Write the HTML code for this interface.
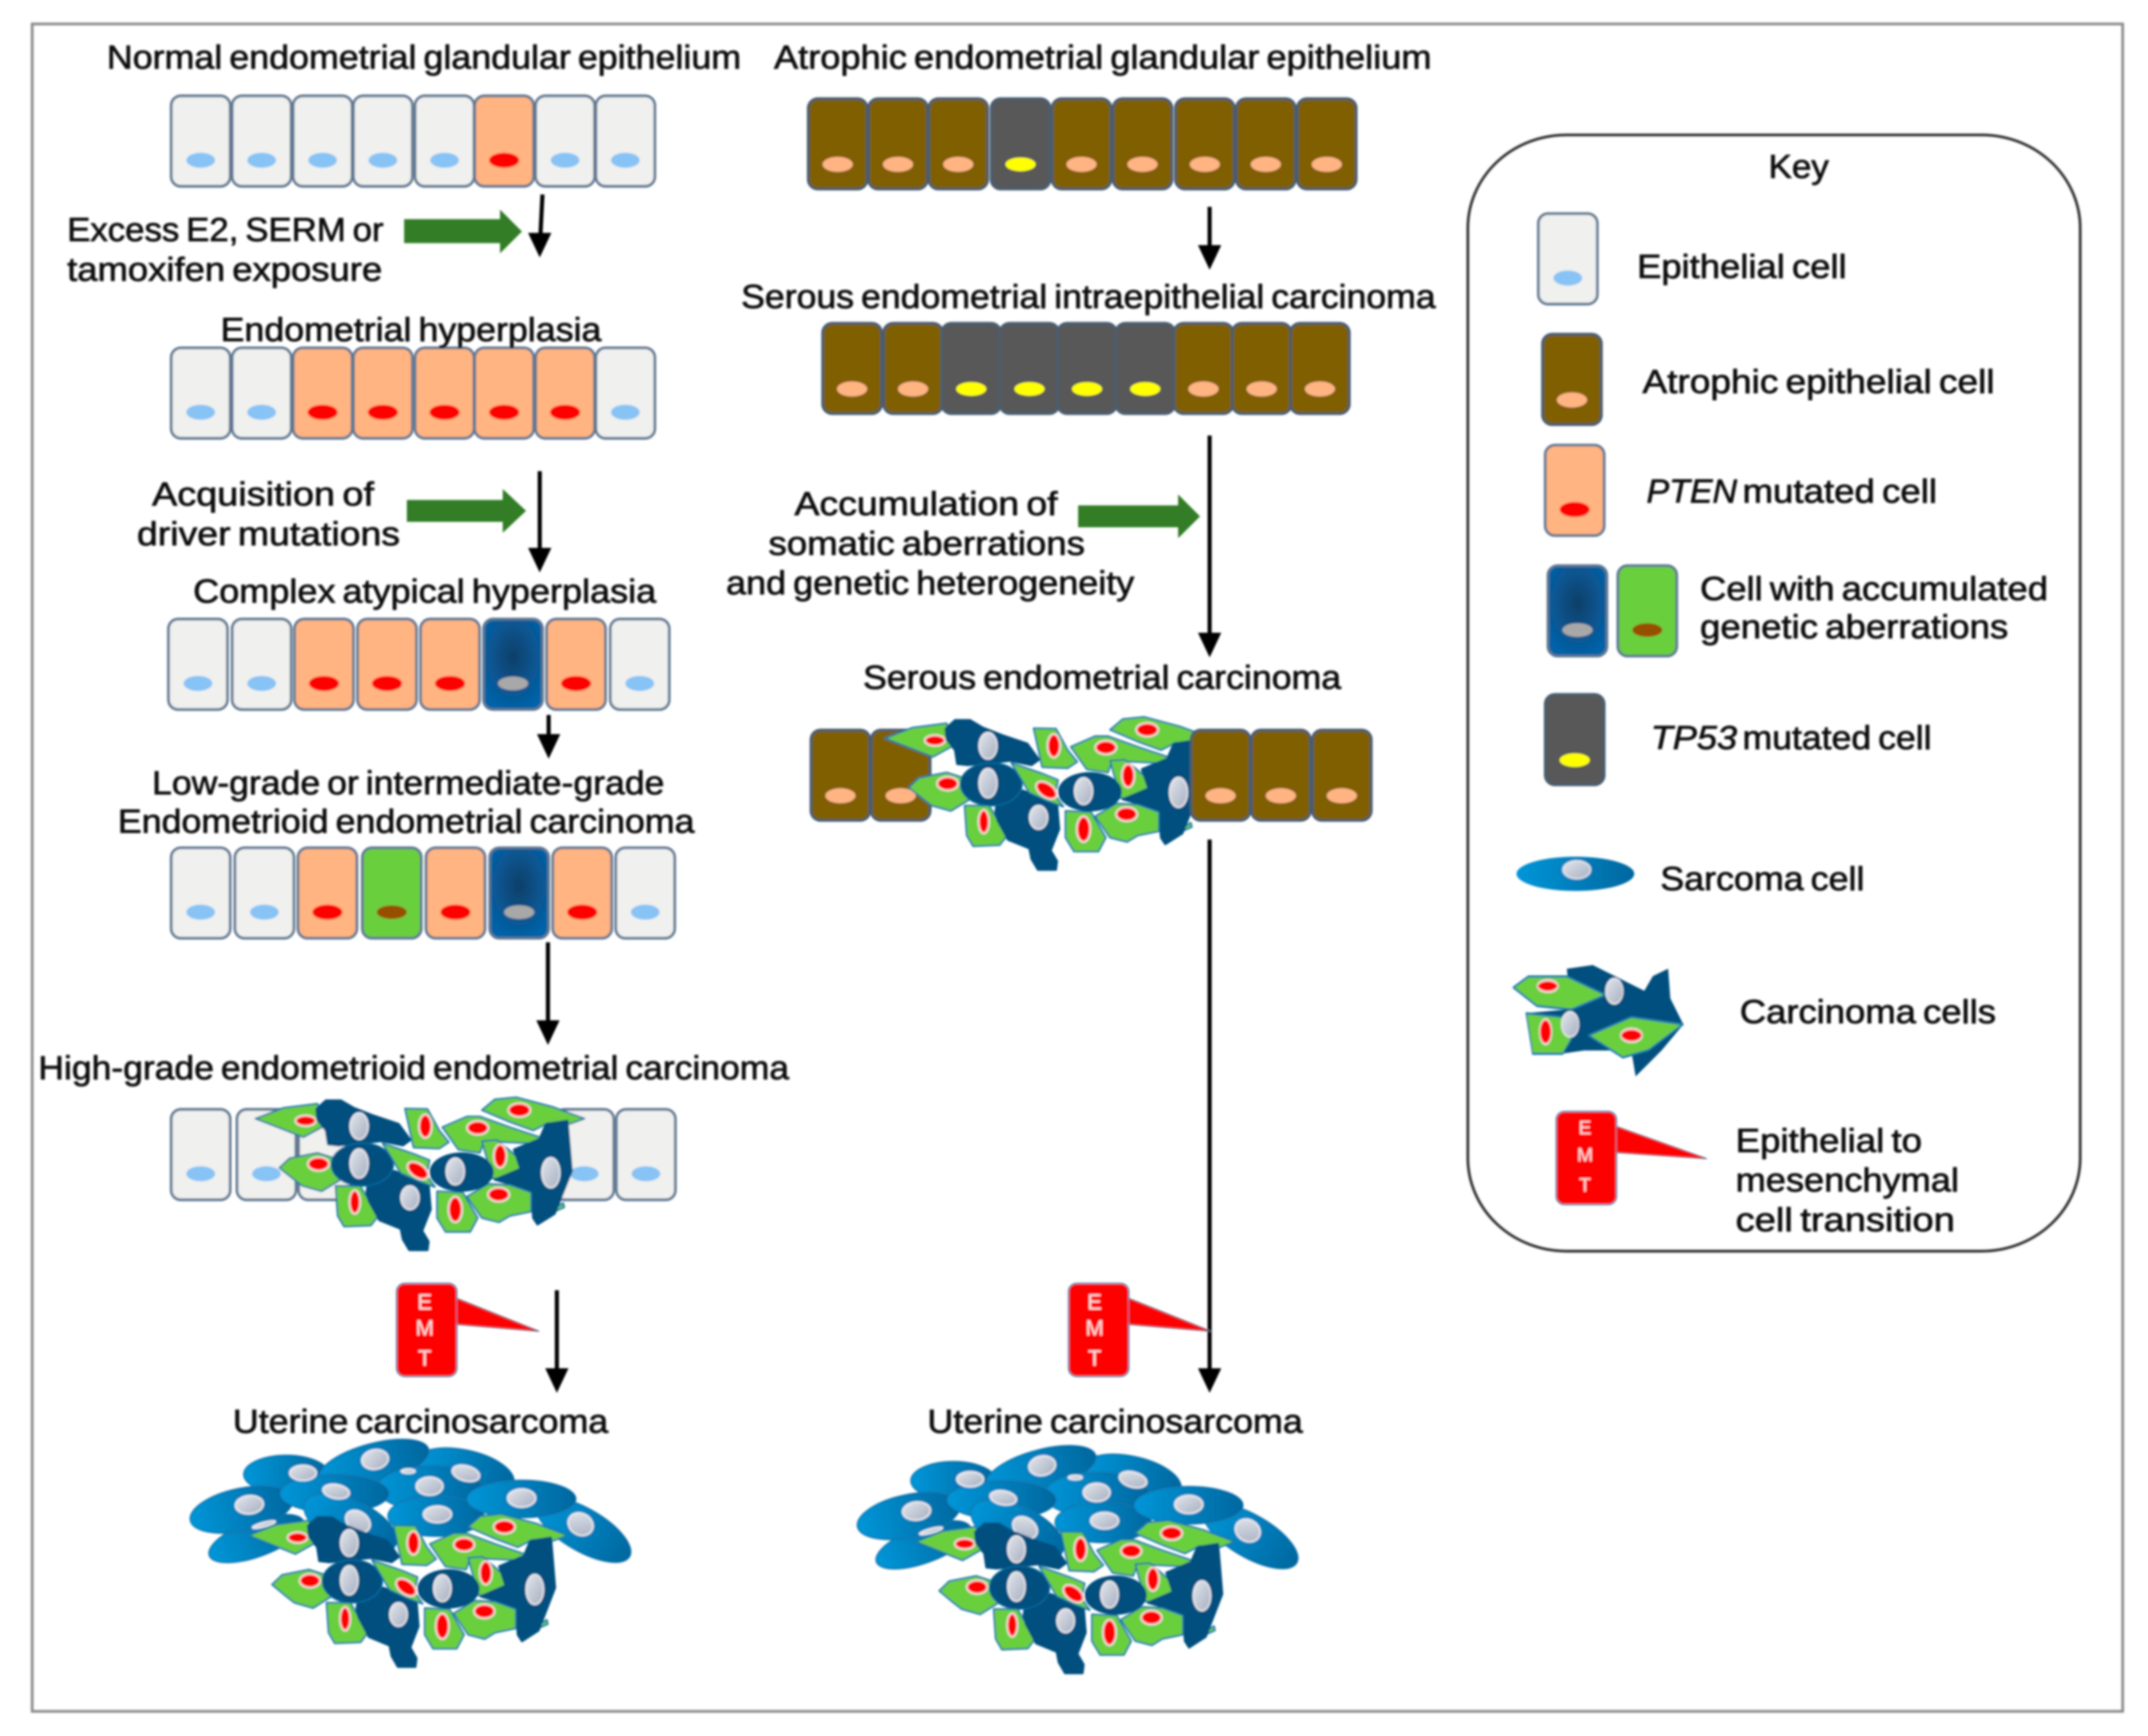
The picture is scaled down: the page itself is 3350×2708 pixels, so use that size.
<!DOCTYPE html>
<html><head><meta charset="utf-8"><style>
html,body{margin:0;padding:0;background:#fff}
svg{display:block}
text{font-family:"Liberation Sans",Arial,sans-serif;font-size:24.5px;fill:#111;stroke:#111;stroke-width:.5px;word-spacing:-2px}
.e{fill:#ffe4e4;stroke:none;font-size:16px;text-anchor:middle}
.k{font-size:14px}
</style></head><body>
<svg xmlns="http://www.w3.org/2000/svg" width="3350" height="2708" viewBox="0 0 1568 1267.5">
<defs>
<filter id="b" filterUnits="userSpaceOnUse" x="0" y="0" width="1568" height="1268"><feGaussianBlur stdDeviation="0.7"/></filter>
<radialGradient id="bg" cx=".5" cy=".42" r=".6"><stop offset="0" stop-color="#0d3f68"/><stop offset=".6" stop-color="#0a5590"/><stop offset="1" stop-color="#0062a8"/></radialGradient>
<linearGradient id="sg" x1="0" x2="1"><stop offset="0" stop-color="#0096d8"/><stop offset="1" stop-color="#00679f"/></linearGradient>
<linearGradient id="ng" x1="0" x2="1" y1="0" y2="1"><stop offset="0" stop-color="#e2e6ec"/><stop offset="1" stop-color="#a6aec0"/></linearGradient>
<g id="cl"><rect x="0" y="0" width="43" height="66" rx="7" fill="#f0f0ee" stroke="#5f7892" stroke-width="2"/><ellipse cx="21.500" cy="47" rx="10.500" ry="5.500" fill="#87c3f5"/></g>
<g id="co"><rect x="0" y="0" width="43" height="66" rx="7" fill="#ffb482" stroke="#5f7892" stroke-width="2"/><ellipse cx="21.500" cy="47" rx="11" ry="5.500" fill="#f00"/></g>
<g id="cb"><rect x="0" y="0" width="43" height="66" rx="7" fill="url(#bg)" stroke="#5f7892" stroke-width="2"/><ellipse cx="21.500" cy="47" rx="11" ry="5" fill="#a8a8a8"/></g>
<g id="cg"><rect x="0" y="0" width="43" height="66" rx="7" fill="#6bcf3c" stroke="#5f7892" stroke-width="2"/><ellipse cx="21.500" cy="47" rx="11" ry="5" fill="#964f00"/></g>
<g id="cw"><rect x="0" y="0" width="43" height="66" rx="7" fill="#7f5f00" stroke="#4a5d70" stroke-width="2"/><ellipse cx="21.500" cy="48" rx="11" ry="5.500" fill="#ffb482"/></g>
<g id="cy"><rect x="0" y="0" width="43" height="66" rx="7" fill="#595959" stroke="#4a5d70" stroke-width="2"/><ellipse cx="21.500" cy="48" rx="11" ry="5" fill="#ff0"/></g>
<g id="ar"><path d="M-8.500 -18 L0 0 L8.500 -18 Z" fill="#000"/></g>
<g id="carc" stroke-linejoin="round">
<g fill="#6bcf3c" stroke="#1c78a8" stroke-width="8">
<polygon points="10,135 140,85 300,65 330,170 235,222"/>
<polygon points="122,365 170,320 300,295 380,320 410,420 320,475 230,450 190,420"/>
<polygon points="385,450 500,450 585,590 550,635 425,640 395,590"/>
</g>
<g fill="#f00" stroke="#f6dcd8" stroke-width="9">
<ellipse cx="245" cy="145" rx="48" ry="25"/><ellipse cx="305" cy="347" rx="50" ry="32"/><ellipse cx="475" cy="525" rx="25" ry="55"/>
</g>
<g fill="#00507f" stroke="#00507f" stroke-width="10">
<polygon points="295,90 340,50 410,50 470,85 560,120 680,160 735,235 700,260 600,240 400,260 350,255 340,190 300,140"/>
<polygon points="530,480 540,420 660,380 820,440 830,560 790,660 820,710 815,750 730,750 700,700 690,650 590,610 540,520"/>
</g>
<ellipse cx="510" cy="350" rx="145" ry="100" fill="#00507f" stroke="#0a689a" stroke-width="7"/>
<g fill="#6bcf3c" stroke="#1c78a8" stroke-width="8">
<polygon points="710,88 815,90 870,190 915,245 870,275 750,270"/>
<polygon points="605,250 750,300 825,330 810,400 850,455 780,430 690,390"/>
<polygon points="885,175 1000,125 1060,125 1200,175 1350,225 1290,250 1080,240 1060,295 960,280"/>
<polygon points="1070,95 1130,45 1230,35 1400,80 1550,135 1480,160 1380,155 1310,190 1200,150"/>
<polygon points="1070,240 1140,235 1230,310 1255,370 1220,415 1120,415"/>
<polygon points="1410,555 1450,530 1455,550 1420,565"/>
</g>
<g fill="#00507f" stroke="#00507f" stroke-width="10">
<polygon points="1220,280 1340,230 1370,160 1470,145 1480,260 1490,380 1450,480 1410,580 1330,630 1310,600 1300,480 1200,440 1130,420 1250,370"/>
</g>
<g fill="#6bcf3c" stroke="#1c78a8" stroke-width="8">
<polygon points="1000,500 1100,440 1200,445 1300,480 1300,570 1200,590 1150,620 1070,600"/>
<polygon points="860,475 980,480 1050,600 1015,665 900,665 860,600"/>
</g>
<ellipse cx="975" cy="385" rx="150" ry="92" fill="#00507f"/>
<g fill="url(#ng)" stroke="#f2f4f6" stroke-width="6">
<ellipse cx="495" cy="170" rx="42" ry="62"/><ellipse cx="495" cy="345" rx="42" ry="68"/><ellipse cx="733" cy="505" rx="42" ry="55"/><ellipse cx="945" cy="382" rx="42" ry="62"/><ellipse cx="1392" cy="388" rx="42" ry="70"/>
</g>
<g fill="#f00" stroke="#f6dcd8" stroke-width="9">
<ellipse cx="770" cy="378" rx="55" ry="32" transform="rotate(35 770 378)"/><ellipse cx="805" cy="170" rx="30" ry="55"/><ellipse cx="1050" cy="178" rx="50" ry="32"/>
<ellipse cx="1245" cy="95" rx="52" ry="32"/><ellipse cx="1155" cy="310" rx="30" ry="55"/><ellipse cx="1148" cy="490" rx="50" ry="33"/><ellipse cx="945" cy="560" rx="32" ry="60"/>
</g>
</g>
<g id="sarc">
<g fill="url(#sg)" stroke="#1470a8" stroke-width="5">
<ellipse cx="1300" cy="140" rx="240" ry="105" transform="rotate(12 1300 140)"/>
<ellipse cx="470" cy="150" rx="200" ry="90"/>
<ellipse cx="880" cy="100" rx="265" ry="95" transform="rotate(-15 880 100)"/>
<ellipse cx="330" cy="450" rx="235" ry="85" transform="rotate(-20 330 450)"/>
<ellipse cx="260" cy="315" rx="245" ry="100" transform="rotate(-12 260 315)"/>
<ellipse cx="1140" cy="215" rx="245" ry="105"/>
<ellipse cx="695" cy="240" rx="255" ry="90"/>
<ellipse cx="1860" cy="410" rx="250" ry="100" transform="rotate(30 1860 410)"/>
<ellipse cx="1170" cy="345" rx="225" ry="95"/>
<ellipse cx="770" cy="380" rx="235" ry="110" transform="rotate(25 770 380)"/>
<ellipse cx="1570" cy="265" rx="255" ry="88"/>
</g>
<g fill="url(#ng)" stroke="#f0f2f4" stroke-width="7">
<ellipse cx="885" cy="80" rx="62" ry="45" transform="rotate(-10 885 80)"/><ellipse cx="548" cy="143" rx="62" ry="35"/><ellipse cx="297" cy="292" rx="65" ry="42" transform="rotate(-5 297 292)"/>
<ellipse cx="703" cy="230" rx="62" ry="32" transform="rotate(10 703 230)"/><ellipse cx="1140" cy="205" rx="62" ry="42"/><ellipse cx="805" cy="370" rx="62" ry="45" transform="rotate(35 805 370)"/>
<ellipse cx="1177" cy="337" rx="65" ry="38"/><ellipse cx="1310" cy="145" rx="65" ry="35" transform="rotate(15 1310 145)"/><ellipse cx="1571" cy="261" rx="65" ry="42"/>
<ellipse cx="1847" cy="383" rx="60" ry="50" transform="rotate(30 1847 383)"/><ellipse cx="365" cy="385" rx="55" ry="10" transform="rotate(-15 365 385)"/><ellipse cx="1040" cy="135" rx="32" ry="10"/>
</g>
</g>
<g id="emt">
<path d="M44 11 L104 35 L44 30 Z" fill="#f00" stroke="#4a5d70" stroke-width=".7"/>
<rect x="0" y="0" width="44" height="68" rx="6" fill="#f00" stroke="#4a8ab0" stroke-width="1"/>
<path d="M44 12 L102 34.500 L44 29 Z" fill="#f00"/>
</g>
</defs>
<rect width="1568" height="1268" fill="#fff"/>
<g filter="url(#b)">
<rect x="23.500" y="17.500" width="1526" height="1232" fill="none" stroke="#8c8c8c" stroke-width="2"/>

<!-- row 1 -->
<use href="#cl" x="125" y="70"/><use href="#cl" x="169.500" y="70"/><use href="#cl" x="214" y="70"/><use href="#cl" x="258" y="70"/><use href="#cl" x="303" y="70"/><use href="#co" x="346.500" y="70"/><use href="#cl" x="391" y="70"/><use href="#cl" x="435" y="70"/>
<!-- row 2 -->
<use href="#cl" x="125" y="254"/><use href="#cl" x="169.500" y="254"/><use href="#co" x="214" y="254"/><use href="#co" x="258" y="254"/><use href="#co" x="303" y="254"/><use href="#co" x="346.500" y="254"/><use href="#co" x="391" y="254"/><use href="#cl" x="435" y="254"/>
<!-- row 3 -->
<use href="#cl" x="123" y="452"/><use href="#cl" x="169.500" y="452"/><use href="#co" x="215" y="452"/><use href="#co" x="261" y="452"/><use href="#co" x="307" y="452"/><use href="#cb" x="353" y="452"/><use href="#co" x="399" y="452"/><use href="#cl" x="445.500" y="452"/>
<!-- row 4 -->
<use href="#cl" x="125" y="619"/><use href="#cl" x="171.500" y="619"/><use href="#co" x="217.500" y="619"/><use href="#cg" x="264.500" y="619"/><use href="#co" x="311" y="619"/><use href="#cb" x="357.500" y="619"/><use href="#co" x="403.500" y="619"/><use href="#cl" x="449.500" y="619"/>
<!-- row 5 -->
<use href="#cl" x="125" y="810"/><use href="#cl" x="173" y="810"/><use href="#cl" x="218" y="810"/><use href="#cl" x="405" y="810"/><use href="#cl" x="450" y="810"/>
<use href="#carc" transform="matrix(.156 0 0 .156 184.900 795.700)"/>

<!-- atrophic rows -->
<use href="#cw" x="590" y="72"/><use href="#cw" x="634" y="72"/><use href="#cw" x="678" y="72"/><use href="#cy" x="723.500" y="72"/><use href="#cw" x="768" y="72"/><use href="#cw" x="812.500" y="72"/><use href="#cw" x="858" y="72"/><use href="#cw" x="902.500" y="72"/><use href="#cw" x="947" y="72"/>
<use href="#cw" x="600.500" y="236"/><use href="#cw" x="645" y="236"/><use href="#cy" x="687.500" y="236"/><use href="#cy" x="730" y="236"/><use href="#cy" x="772" y="236"/><use href="#cy" x="814.500" y="236"/><use href="#cw" x="857" y="236"/><use href="#cw" x="899.500" y="236"/><use href="#cw" x="942" y="236"/>
<use href="#cw" x="592" y="533"/><use href="#cw" x="636" y="533"/>
<use href="#carc" transform="matrix(.155 0 0 .156 644.500 518)"/>
<use href="#cw" x="869.500" y="533"/><use href="#cw" x="913.500" y="533"/><use href="#cw" x="958" y="533"/>

<!-- carcinosarcomas -->
<use href="#sarc" transform="matrix(.156 0 0 .156 135.700 1053.100)"/>
<use href="#carc" transform="matrix(.151 0 0 .156 180.200 1100)"/>
<use href="#sarc" transform="matrix(.156 0 0 .156 622.700 1057.700)"/>
<use href="#carc" transform="matrix(.151 0 0 .156 667.200 1104.600)"/>

<!-- black arrows -->
<g stroke="#000" stroke-width="3" fill="none">
<path d="M396 142 L394.500 172"/><path d="M394 344V402"/><path d="M400.500 522V539"/><path d="M400 688V748"/><path d="M406.500 942V1002"/><path d="M883 151V182"/><path d="M883 318V465"/><path d="M883 613V1002"/>
</g>
<use href="#ar" x="394" y="188"/><use href="#ar" x="394" y="418"/><use href="#ar" x="400.500" y="554"/><use href="#ar" x="400" y="763"/><use href="#ar" x="406.500" y="1017"/><use href="#ar" x="883" y="197"/><use href="#ar" x="883" y="480"/><use href="#ar" x="883" y="1017"/>

<!-- green arrows -->
<g fill="#317d28">
<polygon points="295,160 365,160 365,153 381,169 365,185 365,177.500 295,177.500"/>
<polygon points="297,365 367,365 367,357 384,373 367,389 367,381 297,381"/>
<polygon points="787,369 860,369 860,361 876,377 860,393 860,385 787,385"/>
</g>

<!-- EMT -->
<use href="#emt" x="289.500" y="937"/><use href="#emt" x="780" y="937"/>
<text class="e" x="310" y="956">E</text><text class="e" x="310" y="975">M</text><text class="e" x="310" y="997">T</text>
<text class="e" x="799" y="956">E</text><text class="e" x="799" y="975">M</text><text class="e" x="799" y="997">T</text>

<!-- key -->
<rect x="1071.500" y="98.500" width="447" height="815" rx="72" ry="68" fill="none" stroke="#333" stroke-width="2"/>
<use href="#cl" transform="translate(1123 156)"/>
<use href="#cw" transform="translate(1126 244)"/>
<use href="#co" transform="translate(1128 325)"/>
<use href="#cb" transform="translate(1130 413)"/>
<use href="#cg" transform="translate(1181 413)"/>
<use href="#cy" transform="translate(1128 507)"/>
<ellipse cx="1150" cy="638" rx="43" ry="12.500" fill="url(#sg)"/>
<ellipse cx="1151" cy="635" rx="10" ry="6.500" fill="url(#ng)" stroke="#e8ecf0"/>
<g transform="matrix(.3135 0 0 .5374 1053 84.200)" stroke-linejoin="round">
<polygon points="290,1160 350,1155 470,1190 490,1170 525,1160 530,1200 560,1235 510,1270 450,1305 440,1270 330,1270 270,1275 220,1270 200,1220 300,1215" fill="#00507f" stroke="#00507f"/>
<g fill="#6bcf3c" stroke="#1c78a8" stroke-width="3">
<polygon points="165,1185 200,1170 290,1170 380,1195 300,1215 220,1210"/>
<polygon points="195,1220 280,1225 300,1255 280,1275 210,1275"/>
<polygon points="340,1250 440,1225 560,1235 480,1270 420,1280"/>
</g>
<g fill="#f00" stroke="#f6d8d4" stroke-width="3"><ellipse cx="245" cy="1183" rx="24" ry="8"/><ellipse cx="240" cy="1245" rx="14" ry="17"/><ellipse cx="440" cy="1250" rx="25" ry="9"/></g>
<g fill="url(#ng)" stroke="#f0f2f4" stroke-width="2"><ellipse cx="400" cy="1190" rx="20" ry="17"/><ellipse cx="297" cy="1235" rx="20" ry="17"/></g>
</g>
<g transform="translate(1136 811.500)">
<path d="M44 11 L110 34.500 L44 30 Z" fill="#f00" stroke="#4a5d70" stroke-width=".6"/>
<rect x="0" y="0" width="44" height="68" rx="6" fill="#f00" stroke="#4a8ab0" stroke-width="1"/>
<path d="M44 12 L108 34 L44 29 Z" fill="#f00"/>
</g>
<text class="e k" x="1157" y="828">E</text><text class="e k" x="1157" y="848">M</text><text class="e k" x="1157" y="870">T</text>

<!-- text -->
<text x="78" y="50" textLength="463" lengthAdjust="spacingAndGlyphs">Normal endometrial glandular epithelium</text>
<text x="565" y="50" textLength="480" lengthAdjust="spacingAndGlyphs">Atrophic endometrial glandular epithelium</text>
<text x="49" y="176" textLength="231" lengthAdjust="spacingAndGlyphs">Excess E2, SERM or</text>
<text x="49" y="205" textLength="230" lengthAdjust="spacingAndGlyphs">tamoxifen exposure</text>
<text x="161" y="249" textLength="278" lengthAdjust="spacingAndGlyphs">Endometrial hyperplasia</text>
<text x="111" y="369" textLength="162" lengthAdjust="spacingAndGlyphs">Acquisition of</text>
<text x="100" y="398" textLength="192" lengthAdjust="spacingAndGlyphs">driver mutations</text>
<text x="141" y="440" textLength="338" lengthAdjust="spacingAndGlyphs">Complex atypical hyperplasia</text>
<text x="111" y="580" textLength="374" lengthAdjust="spacingAndGlyphs">Low-grade or intermediate-grade</text>
<text x="86" y="608" textLength="421" lengthAdjust="spacingAndGlyphs">Endometrioid endometrial carcinoma</text>
<text x="28" y="788" textLength="548" lengthAdjust="spacingAndGlyphs">High-grade endometrioid endometrial carcinoma</text>
<text x="170" y="1046" textLength="274" lengthAdjust="spacingAndGlyphs">Uterine carcinosarcoma</text>
<text x="677" y="1046" textLength="274" lengthAdjust="spacingAndGlyphs">Uterine carcinosarcoma</text>
<text x="541" y="225" textLength="507" lengthAdjust="spacingAndGlyphs">Serous endometrial intraepithelial carcinoma</text>
<text x="580" y="376" textLength="192" lengthAdjust="spacingAndGlyphs">Accumulation of</text>
<text x="561" y="405" textLength="231" lengthAdjust="spacingAndGlyphs">somatic aberrations</text>
<text x="530" y="434" textLength="298" lengthAdjust="spacingAndGlyphs">and genetic heterogeneity</text>
<text x="630" y="503" textLength="349" lengthAdjust="spacingAndGlyphs">Serous endometrial carcinoma</text>
<text x="1291" y="130" textLength="44" lengthAdjust="spacingAndGlyphs">Key</text>
<text x="1195" y="203" textLength="153" lengthAdjust="spacingAndGlyphs">Epithelial cell</text>
<text x="1199" y="287" textLength="257" lengthAdjust="spacingAndGlyphs">Atrophic epithelial cell</text>
<text x="1202" y="367" textLength="66" lengthAdjust="spacingAndGlyphs" font-style="italic">PTEN</text>
<text x="1272" y="367" textLength="142" lengthAdjust="spacingAndGlyphs">mutated cell</text>
<text x="1241" y="438" textLength="254" lengthAdjust="spacingAndGlyphs">Cell with accumulated</text>
<text x="1241" y="466" textLength="225" lengthAdjust="spacingAndGlyphs">genetic aberrations</text>
<text x="1205" y="547" textLength="63" lengthAdjust="spacingAndGlyphs" font-style="italic">TP53</text>
<text x="1272" y="547" textLength="138" lengthAdjust="spacingAndGlyphs">mutated cell</text>
<text x="1212" y="650" textLength="149" lengthAdjust="spacingAndGlyphs">Sarcoma cell</text>
<text x="1270" y="747" textLength="187" lengthAdjust="spacingAndGlyphs">Carcinoma cells</text>
<text x="1267" y="841" textLength="136" lengthAdjust="spacingAndGlyphs">Epithelial to</text>
<text x="1267" y="870" textLength="163" lengthAdjust="spacingAndGlyphs">mesenchymal</text>
<text x="1267" y="899" textLength="160" lengthAdjust="spacingAndGlyphs">cell transition</text>
</g>
</svg>
</body></html>
